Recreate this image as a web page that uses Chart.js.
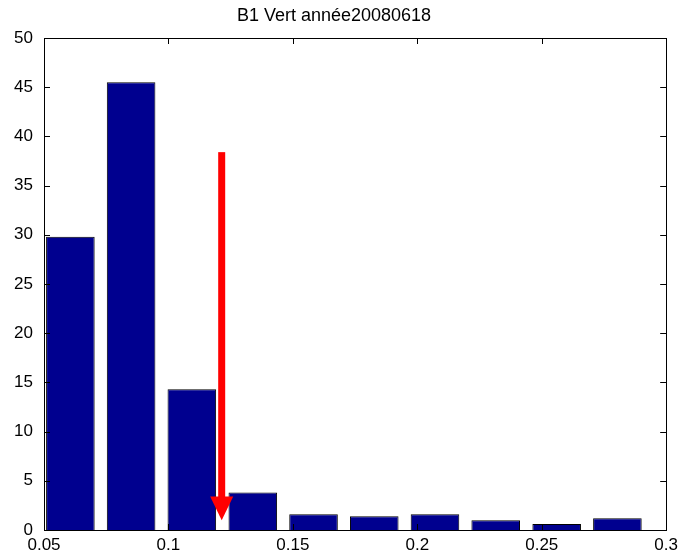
<!DOCTYPE html>
<html>
<head>
<meta charset="utf-8">
<script src="https://cdn.jsdelivr.net/npm/chart.js@4"></script>
<style>
body { margin: 0; background: #fff; }
#wrap { width: 683px; height: 558px; }
</style>
</head>
<body>
<div id="wrap"><canvas id="myChart"></canvas></div>
<script>
// histogram bins (centres) and counts
const binCenters = [0.0606, 0.0850, 0.1094, 0.1339, 0.1583, 0.1827, 0.2071, 0.2315, 0.2560, 0.2804]
const counts = [29.8, 45.5, 14.3, 3.8, 1.6, 1.4, 1.6, 1.0, 0.6, 1.2]
const xTicks = [0.05, 0.1, 0.15, 0.2, 0.25, 0.3]
const yTicks = [0, 5, 10, 15, 20, 25, 30, 35, 40, 45, 50]
// red arrow: x position, top of shaft, base of head, tip (data units)
const arrowX = 0.1214
const arrowTop = 38.4
const arrowHead = 3.4
const arrowTip = 1.0

const font = 'Liberation Sans, Arial, sans-serif'

const frame = {
    id: 'frame',
    afterDatasetsDraw(chart) {
        const ctx = chart.ctx
        const a = chart.chartArea
        const xs = chart.scales.x
        const ys = chart.scales.y
        ctx.save()
        // inward ticks, like matlab
        ctx.strokeStyle = '#000'
        ctx.lineWidth = 1
        ctx.beginPath()
        xTicks.forEach(v => {
            const px = Math.round(xs.getPixelForValue(v)) + 0.5
            ctx.moveTo(px, a.bottom); ctx.lineTo(px, a.bottom - 6)
            ctx.moveTo(px, a.top); ctx.lineTo(px, a.top + 6)
        })
        yTicks.forEach(v => {
            const py = Math.round(ys.getPixelForValue(v)) + 0.5
            ctx.moveTo(a.left, py); ctx.lineTo(a.left + 6, py)
            ctx.moveTo(a.right, py); ctx.lineTo(a.right - 6, py)
        })
        ctx.stroke()
        ctx.strokeRect(Math.round(a.left) + 0.5, Math.round(a.top) + 0.5,
            Math.round(a.right - a.left), Math.round(a.bottom - a.top))

        // arrow
        const ax = xs.getPixelForValue(arrowX)
        const top = ys.getPixelForValue(arrowTop)
        const head = ys.getPixelForValue(arrowHead)
        const tip = ys.getPixelForValue(arrowTip)
        ctx.fillStyle = '#ff0000'
        ctx.fillRect(ax - 3.5, top, 7, head - top + 1)
        ctx.beginPath()
        ctx.moveTo(ax - 11.5, head)
        ctx.lineTo(ax + 11.5, head)
        ctx.lineTo(ax, tip)
        ctx.closePath()
        ctx.fill()
        ctx.restore()
    }
}

const ctx = document.getElementById('myChart')
const chart = new Chart(ctx, {
    type: 'bar',
    data: {
        datasets: [{
            data: binCenters.map((c, i) => ({ x: c, y: counts[i] })),
            backgroundColor: 'rgb(0, 0, 143)',
            borderColor: '#000',
            borderWidth: 1,
            barPercentage: 0.8,
            categoryPercentage: 1.0
        }]
    },
    options: {
        responsive: true,
        maintainAspectRatio: false,
        animation: false,
        layout: { padding: { left: 0, right: 15, top: 0, bottom: 0 } },
        plugins: {
            legend: { display: false },
            tooltip: { enabled: false },
            title: {
                display: true,
                text: 'B1 Vert année20080618',
                color: '#000',
                font: { family: font, size: 18, weight: 'normal', lineHeight: 1.2 },
                padding: { top: 5, bottom: 11.4 }
            }
        },
        scales: {
            x: {
                type: 'linear',
                min: 0.05,
                max: 0.3,
                offset: false,
                grid: { display: false, drawTicks: false },
                border: { display: false },
                afterBuildTicks: s => { s.ticks = xTicks.map(v => ({ value: v })) },
                afterFit: s => { s.height = 28 },
                ticks: {
                    color: '#000',
                    padding: 5,
                    maxRotation: 0,
                    autoSkip: false,
                    font: { family: font, size: 17 },
                    callback: v => String(parseFloat(v.toFixed(2)))
                }
            },
            y: {
                min: 0,
                max: 50,
                grid: { display: false, drawTicks: false },
                border: { display: false },
                afterBuildTicks: s => { s.ticks = yTicks.map(v => ({ value: v })) },
                afterFit: s => { s.width = 44 },
                ticks: {
                    color: '#000',
                    padding: 11,
                    font: { family: font, size: 17 }
                }
            }
        }
    },
    plugins: [frame]
})
</script>
</body>
</html>
